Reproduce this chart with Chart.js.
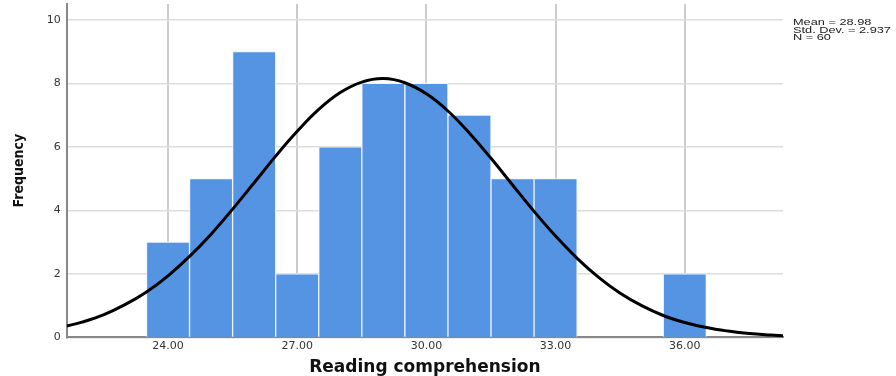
<!DOCTYPE html>
<html><head><meta charset="utf-8">
<script src="https://cdn.jsdelivr.net/npm/chart.js@4/dist/chart.umd.min.js"></script>
<style>
html,body{margin:0;padding:0;background:#fff;}
#wrap{position:relative;width:896px;height:376px;}
#stats{position:absolute;left:793px;top:19px;font-family:"Liberation Sans",Arial,sans-serif;font-size:8.5px;line-height:7.5px;color:#222;white-space:pre;transform:scaleX(1.5);transform-origin:0 0;}
</style></head>
<body><div id="wrap"><canvas id="c" width="896" height="376"></canvas>
<div id="stats">Mean = 28.98
Std. Dev. = 2.937
N = 60</div></div>
<script>
const binCenters = [24,25,26,27,28,29,30,31,32,33,34,35,36];
const frequencies = [3,5,9,2,6,8,8,7,5,5,0,0,2];
const curveX = [21.65,22,22.5,23,23.5,24,24.5,25,25.5,26,26.5,27,27.5,28,28.5,29,29.5,30,30.5,31,31.5,32,32.5,33,33.5,34,34.5,35,35.5,36,36.5,37,37.5,38,38.28];
const curveY = [0.36,0.48,0.71,1.03,1.43,1.94,2.55,3.25,4.04,4.87,5.71,6.49,7.18,7.71,8.04,8.15,8.02,7.67,7.13,6.43,5.64,4.80,3.97,3.19,2.49,1.89,1.39,1.00,0.69,0.47,0.31,0.20,0.12,0.073,0.054];
const xTicks = [24,27,30,33,36];
const yTicks = [0,2,4,6,8,10];

new Chart(document.getElementById('c'), {
  type: 'bar',
  data: {
    datasets: [
      {
        type: 'line',
        data: curveX.map((x,i)=>({x:x,y:curveY[i]})),
        borderColor: '#000',
        borderWidth: 3,
        pointRadius: 0,
        tension: 0.4,
        fill: false,
        order: 0
      },
      {
        type: 'bar',
        data: binCenters.map((x,i)=>({x:x,y:frequencies[i]})),
        backgroundColor: '#5594e3',
        borderColor: '#eef4fc',
        borderWidth: 1,
        barPercentage: 1,
        categoryPercentage: 1,
        order: 1
      }
    ]
  },
  options: {
    responsive: false,
    animation: false,
    layout: { padding: { left: 11, right: 113, top: 4, bottom: 0 } },
    plugins: { legend: { display: false }, tooltip: { enabled: false } },
    scales: {
      x: {
        type: 'linear',
        offset: false,
        min: 21.65, max: 38.28,
        afterBuildTicks: s => { s.ticks = xTicks.map(v=>({value:v})); },
        ticks: { callback: v => v.toFixed(2), color: '#333', font: { family: 'DejaVu Sans', size: 11 }, padding: 2, maxRotation: 0 },
        grid: { offset: false, color: '#cccccc', lineWidth: 2, drawTicks: false },
        border: { color: '#888', width: 2 },
        title: { display: true, text: 'Reading comprehension', color: '#111', font: { family: 'DejaVu Sans', size: 17, weight: 'bold' }, padding: { top: 3, bottom: -2 } }
      },
      y: {
        min: 0, max: 10.5,
        afterBuildTicks: s => { s.ticks = yTicks.map(v=>({value:v})); },
        afterFit: s => { s.paddingTop = 0; s.paddingBottom = 0; },
        ticks: { color: '#333', font: { family: 'DejaVu Sans', size: 11 }, padding: 6 },
        grid: { color: '#dddddd', lineWidth: 1.5, drawTicks: false },
        border: { color: '#888', width: 2 },
        title: { display: true, text: 'Frequency', color: '#111', font: { family: 'DejaVu Sans Condensed', size: 14, weight: 'bold' }, padding: { top: 0, bottom: 13 } }
      }
    }
  }
});
</script></body></html>
